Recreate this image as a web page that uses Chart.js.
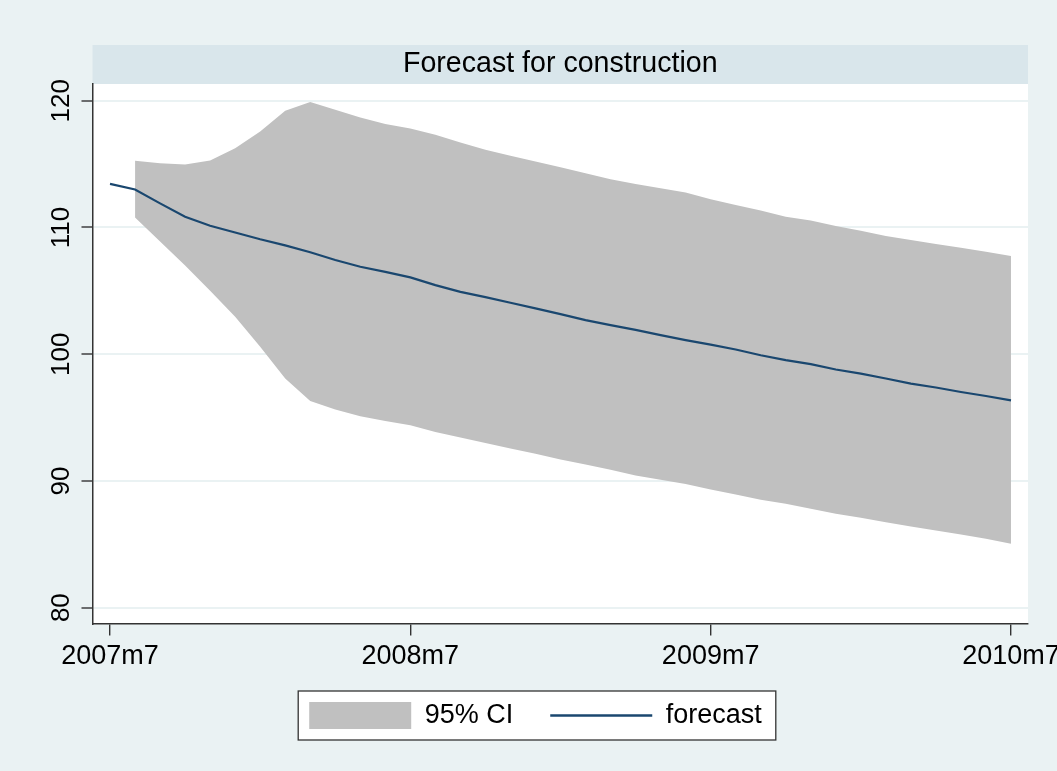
<!DOCTYPE html>
<html>
<head>
<meta charset="utf-8">
<title>Forecast for construction</title>
<script src="https://cdn.jsdelivr.net/npm/chart.js"></script>
<style>
  html, body { margin: 0; padding: 0; background: #EAF2F3; }
  #wrap { width: 1057px; height: 771px; }
</style>
</head>
<body>
<div id="wrap"><canvas id="myChart" width="1057" height="771"></canvas></div>
<script>
// months since 2007m7, one entry per forecast step
const months = [
  "2007m7", "2007m8", "2007m9", "2007m10", "2007m11", "2007m12",
  "2008m1", "2008m2", "2008m3", "2008m4", "2008m5", "2008m6",
  "2008m7", "2008m8", "2008m9", "2008m10", "2008m11", "2008m12",
  "2009m1", "2009m2", "2009m3", "2009m4", "2009m5", "2009m6",
  "2009m7", "2009m8", "2009m9", "2009m10", "2009m11", "2009m12",
  "2010m1", "2010m2", "2010m3", "2010m4", "2010m5", "2010m6",
  "2010m7"
];

const forecast = [
  113.44, 113.0, 111.9, 110.85, 110.14, 109.6, 109.07, 108.59, 108.04, 107.43,
  106.9, 106.5, 106.06, 105.45, 104.92, 104.5, 104.06, 103.61, 103.16, 102.69,
  102.29, 101.92, 101.5, 101.11, 100.75, 100.37, 99.92, 99.53, 99.21, 98.79,
  98.47, 98.08, 97.68, 97.37, 97.02, 96.7, 96.36
];

// 95% CI starts one month after the last observation (2007m8)
const ciUpper = [
  null, 115.26, 115.07, 114.97, 115.28, 116.26, 117.58, 119.2, 119.9, 119.29,
  118.68, 118.16, 117.8, 117.31, 116.7, 116.13, 115.65, 115.2, 114.76, 114.28,
  113.81, 113.42, 113.1, 112.75, 112.22, 111.78, 111.33, 110.85, 110.54, 110.12,
  109.75, 109.33, 109.01, 108.7, 108.4, 108.09, 107.75
];
const ciLower = [
  null, 110.78, 108.9, 107.0, 105.0, 102.95, 100.58, 98.08, 96.31, 95.63,
  95.1, 94.73, 94.39, 93.86, 93.42, 92.99, 92.55, 92.15, 91.7, 91.3,
  90.89, 90.43, 90.09, 89.75, 89.33, 88.93, 88.51, 88.2, 87.8, 87.41,
  87.09, 86.74, 86.4, 86.09, 85.77, 85.43, 85.04
];

const xTicks = [0, 12, 24, 36];
const yTicks = [80, 90, 100, 110, 120];

const NAVY = "#1A476F";
const CI_GRAY = "#C0C0C0";
const BG = "#EAF2F3";

toPoints = arr => {
  let pts = [];
  for (let i = 0; i < arr.length; i++) {
    if (arr[i] !== null) pts.push({ x: i, y: arr[i] });
  }
  return pts;
};

Chart.defaults.font.family = '"Liberation Sans", Arial, Helvetica, sans-serif';
Chart.defaults.color = "#000";

// stata-ish frame: background, title strip, legend box, rotated y labels
const stataFrame = {
  id: "stataFrame",
  beforeDraw(chart) {
    const { ctx, chartArea: a } = chart;
    ctx.save();
    ctx.fillStyle = BG;
    ctx.fillRect(0, 0, chart.width, chart.height);
    ctx.fillStyle = "#FFFFFF";
    ctx.fillRect(a.left, a.top, a.right - a.left, a.bottom - a.top);

    const t = chart.titleBlock;
    ctx.fillStyle = "#D9E6EB";
    ctx.fillRect(a.left, t.top, a.right - a.left, t.bottom - t.top);

    const boxes = chart.legend.legendHitBoxes;
    if (boxes && boxes.length) {
      const first = boxes[0];
      const last = boxes[boxes.length - 1];
      const x0 = first.left - 11;
      const x1 = last.left + last.width + 14;
      const y0 = first.top - 11;
      const y1 = first.top + first.height + 11;
      ctx.fillStyle = "#FFFFFF";
      ctx.fillRect(x0, y0, x1 - x0, y1 - y0);
      ctx.strokeStyle = "#333333";
      ctx.lineWidth = 1.3;
      ctx.strokeRect(x0, y0, x1 - x0, y1 - y0);
    }
    ctx.restore();
  },
  afterDraw(chart) {
    const { ctx } = chart;
    const y = chart.scales.y;
    ctx.save();
    ctx.fillStyle = "#000";
    ctx.font = '26px "Liberation Sans", Arial, sans-serif';
    ctx.textAlign = "center";
    ctx.textBaseline = "middle";
    y.ticks.forEach(t => {
      ctx.save();
      ctx.translate(y.right - 31, y.getPixelForValue(t.value));
      ctx.rotate(-Math.PI / 2);
      ctx.fillText(String(t.value), 0, 0);
      ctx.restore();
    });
    ctx.restore();
  }
};

new Chart(document.getElementById("myChart"), {
  type: "line",
  data: {
    datasets: [
      {
        label: "95% CI",
        data: toPoints(ciUpper),
        borderColor: "rgba(0,0,0,0)",
        backgroundColor: CI_GRAY,
        borderWidth: 1,
        pointRadius: 0,
        fill: "+1",
        order: 2
      },
      {
        label: "lower",
        data: toPoints(ciLower),
        borderColor: "rgba(0,0,0,0)",
        backgroundColor: CI_GRAY,
        borderWidth: 1,
        pointRadius: 0,
        fill: false,
        order: 3
      },
      {
        label: "forecast",
        data: toPoints(forecast),
        borderColor: NAVY,
        borderWidth: 2.2,
        pointRadius: 0,
        fill: false,
        order: 1
      }
    ]
  },
  options: {
    responsive: false,
    animation: false,
    events: [],
    layout: { padding: { top: 45, left: 43, right: 29, bottom: 32 } },
    scales: {
      x: {
        type: "linear",
        min: -0.7,
        max: 36.68,
        afterBuildTicks: s => { s.ticks = xTicks.map(v => ({ value: v })); },
        afterFit: s => {
          s.height = 41.5;
          s.paddingLeft = 0;
          s.paddingRight = 0;
        },
        ticks: {
          autoSkip: false,
          maxRotation: 0,
          padding: 5,
          font: { size: 27 },
          color: "#000",
          callback: v => months[v]
        },
        grid: {
          drawOnChartArea: false,
          drawTicks: true,
          tickLength: 12,
          tickColor: "#333333",
          lineWidth: 1.4
        },
        border: { display: true, color: "#333333", width: 1.5 }
      },
      y: {
        min: 78.75,
        max: 121.32,
        afterBuildTicks: s => { s.ticks = yTicks.map(v => ({ value: v })); },
        afterFit: s => {
          s.width = 49.5;
          s.paddingTop = 0;
          s.paddingBottom = 0;
        },
        ticks: { display: false },
        grid: {
          color: BG,
          lineWidth: 2,
          drawTicks: true,
          tickLength: 11,
          tickColor: "#333333",
          tickWidth: 1.4
        },
        border: { display: true, color: "#333333", width: 1.5 }
      }
    },
    plugins: {
      title: {
        display: true,
        text: "Forecast for construction",
        fullSize: false,
        color: "#000",
        font: { size: 28.6, weight: "normal", lineHeight: 39 / 28.6 },
        padding: 0
      },
      legend: {
        display: true,
        position: "bottom",
        labels: {
          usePointStyle: true,
          pointStyleWidth: 102,
          padding: 37,
          color: "#000",
          font: { size: 27 },
          generateLabels: () => [
            {
              text: "95% CI",
              fillStyle: CI_GRAY,
              strokeStyle: CI_GRAY,
              lineWidth: 0,
              pointStyle: "rect",
              hidden: false,
              datasetIndex: 0
            },
            {
              text: "forecast",
              fillStyle: NAVY,
              strokeStyle: NAVY,
              lineWidth: 2.5,
              pointStyle: "line",
              hidden: false,
              datasetIndex: 2
            }
          ]
        }
      },
      tooltip: { enabled: false }
    }
  },
  plugins: [stataFrame]
});
</script>
</body>
</html>
